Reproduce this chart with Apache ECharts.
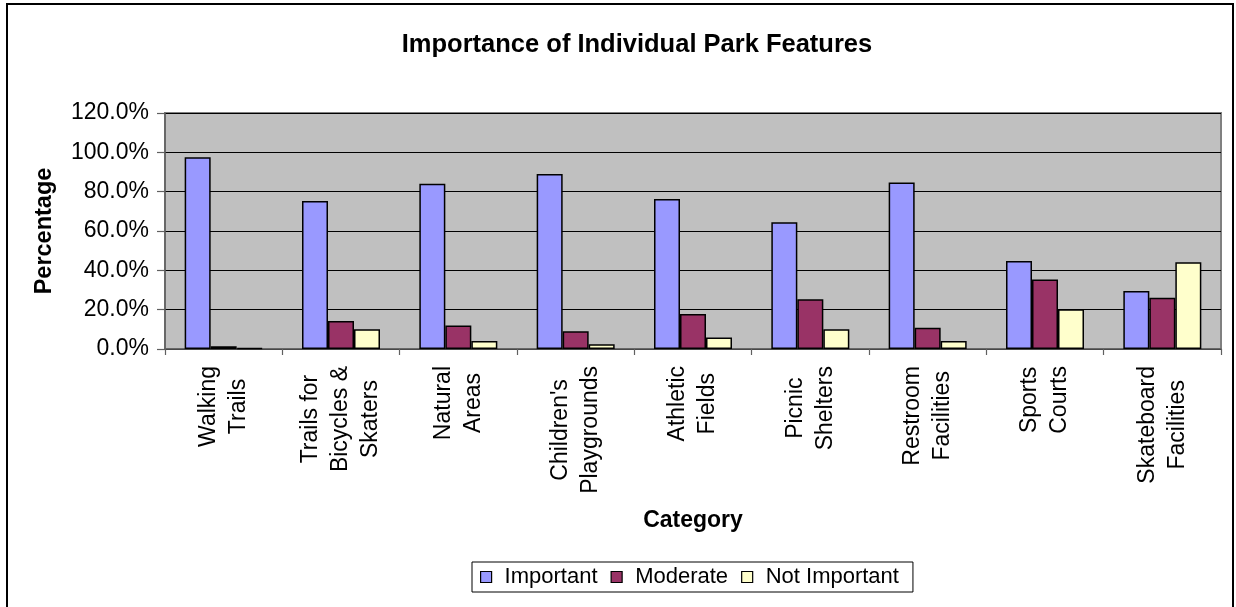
<!DOCTYPE html>
<html>
<head>
<meta charset="utf-8">
<script src="https://cdn.jsdelivr.net/npm/echarts@6/dist/echarts.min.js"></script>
<style>
  html, body { margin: 0; padding: 0; background: #fff; }
  #chart { width: 1236px; height: 607px; }
</style>
</head>
<body>
<div id="chart"></div>
<script>
const categories = [
  "Walking\nTrails",
  "Trails for\nBicycles &\nSkaters",
  "Natural\nAreas",
  "Children's\nPlaygrounds",
  "Athletic\nFields",
  "Picnic\nShelters",
  "Restroom\nFacilities",
  "Sports\nCourts",
  "Skateboard\nFacilities"
];
const important    = [97.5, 75.2, 84.0, 89.0, 76.3, 64.4, 84.7, 44.7, 29.5];
const moderate     = [1.4, 14.2, 11.9, 9.0, 17.8, 25.3, 10.8, 35.4, 26.1];
const notImportant = [0.5, 10.0, 4.1, 2.4, 5.8, 10.0, 4.1, 20.2, 44.1];
const seriesNames  = ["Important", "Moderate", "Not Important"];
const seriesColors = ["#9999FF", "#993366", "#FFFFCC"];
const yTicks = { min: 0, max: 120, interval: 20 };

const FONT = 'Arial, "Liberation Sans", sans-serif';
const chart = echarts.init(document.getElementById('chart'), null, { renderer: 'canvas' });

function barSeries(name, data, color) {
  return {
    name: name,
    type: 'bar',
    data: data,
    barWidth: 26,
    barGap: '0%',
    itemStyle: { color: color, borderColor: '#000', borderWidth: 1.5 },
    emphasis: { disabled: true },
    animation: false
  };
}

chart.setOption({
  animation: false,
  backgroundColor: '#ffffff',
  title: {
    text: 'Importance of Individual Park Features',
    left: 632,
    top: 27,
    textAlign: 'center',
    textStyle: { fontFamily: FONT, fontSize: 25.5, fontWeight: 'bold', color: '#000' }
  },
  graphic: [{
    type: 'rect',
    shape: { x: 7, y: 4, width: 1226, height: 620 },
    style: { fill: 'none', stroke: '#000', lineWidth: 2 },
    silent: true,
    z: 100
  }],
  legend: {
    data: seriesNames,
    left: 472,
    top: 562,
    orient: 'horizontal',
    padding: [4, 14, 4, 8],
    itemGap: 13,
    itemWidth: 11,
    itemHeight: 11,
    icon: 'rect',
    borderColor: '#000',
    borderWidth: 1,
    backgroundColor: '#fff',
    selectedMode: false,
    itemStyle: { borderColor: '#000', borderWidth: 1.2 },
    textStyle: { fontFamily: FONT, fontSize: 22, color: '#000', padding: [0, 0, 0, 8] }
  },
  grid: {
    left: 165,
    right: 15,
    top: 113,
    bottom: 258,
    show: true,
    backgroundColor: '#C0C0C0',
    borderColor: '#808080',
    borderWidth: 2
  },
  xAxis: {
    type: 'category',
    data: categories,
    name: 'Category',
    nameLocation: 'middle',
    nameGap: 160,
    nameTextStyle: { fontFamily: FONT, fontSize: 23, fontWeight: 'bold', color: '#000' },
    axisLine: { lineStyle: { color: '#606060', width: 1.5 } },
    axisTick: { show: true, alignWithLabel: false, length: 6, lineStyle: { color: '#606060', width: 1.2 } },
    axisLabel: {
      interval: 0,
      rotate: 90,
      margin: 17,
      fontFamily: FONT,
      fontSize: 23,
      lineHeight: 30,
      color: '#000',
      formatter: function (v) {
        return v.split('\n').map(function (l) { return '{c|' + l + '}'; }).join('\n');
      },
      rich: {
        c: { align: 'center', fontFamily: FONT, fontSize: 23, lineHeight: 30, color: '#000' }
      }
    }
  },
  yAxis: {
    type: 'value',
    min: yTicks.min,
    max: yTicks.max,
    interval: yTicks.interval,
    name: 'Percentage',
    nameLocation: 'middle',
    nameGap: 108,
    nameTextStyle: { fontFamily: FONT, fontSize: 23.5, fontWeight: 'bold', color: '#000' },
    axisLine: { show: true, lineStyle: { color: '#606060', width: 1.5 } },
    axisTick: { show: true, length: 8, lineStyle: { color: '#606060', width: 1.2 } },
    splitLine: { show: true, lineStyle: { color: '#000', width: 1 } },
    axisLabel: {
      margin: 16,
      fontFamily: FONT,
      fontSize: 23,
      color: '#000',
      formatter: function (v) { return v.toFixed(1) + '%'; }
    }
  },
  series: [
    barSeries(seriesNames[0], important, seriesColors[0]),
    barSeries(seriesNames[1], moderate, seriesColors[1]),
    barSeries(seriesNames[2], notImportant, seriesColors[2])
  ]
});
</script>
</body>
</html>
